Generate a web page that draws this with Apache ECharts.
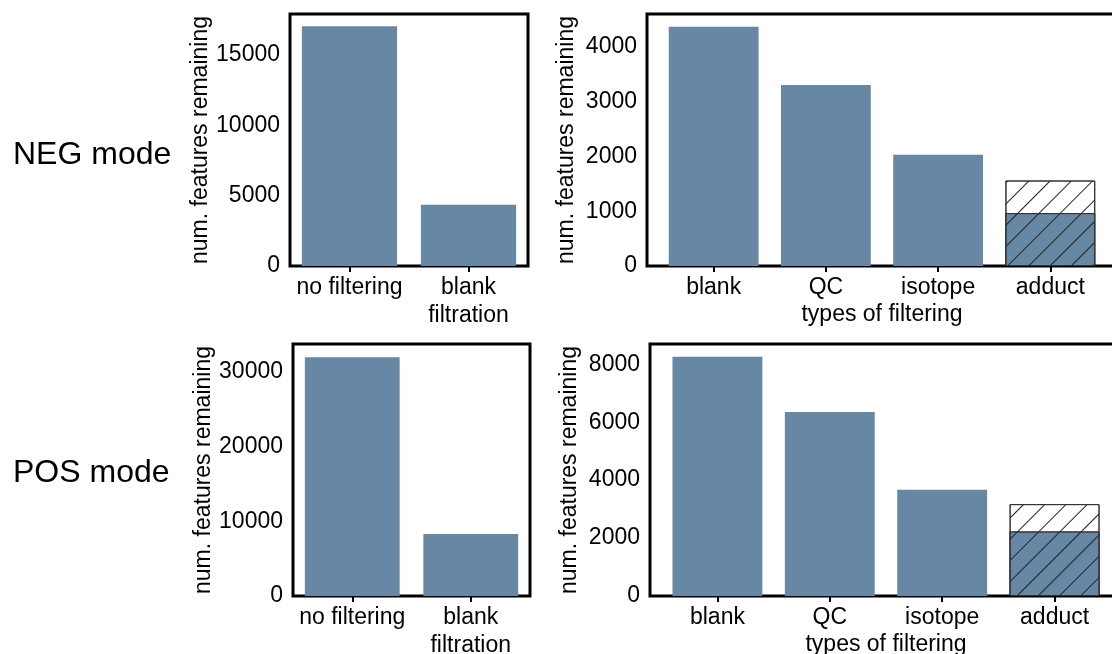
<!DOCTYPE html>
<html><head><meta charset="utf-8">
<script src="https://cdn.jsdelivr.net/npm/echarts@6/dist/echarts.min.js"></script>
<style>html,body{margin:0;padding:0;background:#fff}#c{width:1112px;height:654px}</style>
</head><body><div id="c"></div>
<script>
const leftCategories = ['no filtering', 'blank\nfiltration'];
const rightCategories = ['blank', 'QC', 'isotope', 'adduct'];
const negLeftValues = [17030, 4350];
const negRightValues = [4364, 3302, 2027, 965];
const negAdductBefore = 1559;
const posLeftValues = [31920, 8280];
const posRightValues = [8262, 6355, 3666, 2228];
const posAdductBefore = 3172;
const negLeftTicks = [0, 5000, 10000, 15000];
const negRightTicks = [0, 1000, 2000, 3000, 4000];
const posLeftTicks = [0, 10000, 20000, 30000];
const posRightTicks = [0, 2000, 4000, 6000, 8000];
const rowLabels = ['NEG mode', 'POS mode'];
const yAxisTitle = 'num. features remaining';
const xAxisTitle = 'types of filtering';

const FONT = "'Liberation Sans', Arial, sans-serif";
const FS = 23;
const BAR = '#6788a4';
const hatch = {symbol: 'rect', symbolSize: 1, color: '#222', dashArrayX: [1, 0], dashArrayY: [1, 14], rotation: -Math.PI / 4};

function gridOf(left, top, width) {
  return {left: left, top: top, width: width, height: 252, show: true, borderColor: '#000', borderWidth: 3,
    backgroundColor: 'transparent', containLabel: false, outerBoundsMode: 'none'};
}
function xAx(idx, cats, min, max, withName) {
  const vals = cats.map((c, i) => i);
  const ax = {
    type: 'value', gridIndex: idx, min: min, max: max,
    axisLine: {show: false}, splitLine: {show: false},
    axisTick: {show: true, customValues: vals, length: 6, lineStyle: {color: '#000', width: 2}},
    axisLabel: {customValues: vals, formatter: v => cats[Math.round(v)], fontSize: FS, color: '#000', margin: 8, lineHeight: 28, fontFamily: FONT}
  };
  if (withName) {
    ax.name = xAxisTitle; ax.nameLocation = 'middle'; ax.nameGap = 31;
    ax.nameTextStyle = {fontSize: FS, color: '#000', fontFamily: FONT};
  }
  return ax;
}
function yAx(idx, ticks, max) {
  return {
    type: 'value', gridIndex: idx, min: 0, max: max,
    axisLine: {show: false}, splitLine: {show: false},
    axisTick: {show: true, customValues: ticks, length: 6, lineStyle: {color: '#000', width: 2}},
    axisLabel: {customValues: ticks, formatter: v => String(v), fontSize: FS, color: '#000', margin: 10, fontFamily: FONT},
    name: yAxisTitle, nameLocation: 'middle', nameGap: 69, nameRotate: 90,
    nameTextStyle: {fontSize: FS, color: '#000', fontFamily: FONT}
  };
}
function leftSeries(idx, values) {
  return {type: 'bar', xAxisIndex: idx, yAxisIndex: idx, barWidth: '80%',
    itemStyle: {color: BAR}, data: values.map((v, i) => [i, v]), silent: true};
}
function rightSeries(idx, values, before) {
  const n = values.length - 1;
  return [
    {type: 'bar', xAxisIndex: idx, yAxisIndex: idx, barWidth: '80%', barGap: '-100%', silent: true,
      data: [{value: [n, before], itemStyle: {color: '#fff', borderColor: '#333', borderWidth: 1, decal: hatch}}]},
    {type: 'bar', xAxisIndex: idx, yAxisIndex: idx, barWidth: '80%', barGap: '-100%', silent: true,
      itemStyle: {color: BAR},
      data: values.map((v, i) => i === n ? {value: [i, v], itemStyle: {color: BAR, borderColor: '#333', borderWidth: 1, decal: hatch}} : [i, v])}
  ];
}

const chart = echarts.init(document.getElementById('c'), null, {renderer: 'canvas'});
chart.setOption({
  animation: false,
  textStyle: {fontFamily: FONT},
  grid: [gridOf(290, 14, 238), gridOf(647, 14, 470), gridOf(293, 344, 237), gridOf(650, 344, 472)],
  xAxis: [
    xAx(0, leftCategories, -0.5, 1.5, false),
    xAx(1, rightCategories, -0.594, 3.594, true),
    xAx(2, leftCategories, -0.5, 1.5, false),
    xAx(3, rightCategories, -0.6, 3.6, true)
  ],
  yAxis: [
    yAx(0, negLeftTicks, 17900),
    yAx(1, negRightTicks, 4596),
    yAx(2, posLeftTicks, 33700),
    yAx(3, posRightTicks, 8700)
  ],
  graphic: [
    {type: 'text', left: 13, top: 139, style: {text: rowLabels[0], fontSize: 32, fill: '#000', fontFamily: FONT}},
    {type: 'text', left: 13, top: 457, style: {text: rowLabels[1], fontSize: 32, fill: '#000', fontFamily: FONT}}
  ],
  series: [
    leftSeries(0, negLeftValues),
    ...rightSeries(1, negRightValues, negAdductBefore),
    leftSeries(2, posLeftValues),
    ...rightSeries(3, posRightValues, posAdductBefore)
  ]
});
</script></body></html>
